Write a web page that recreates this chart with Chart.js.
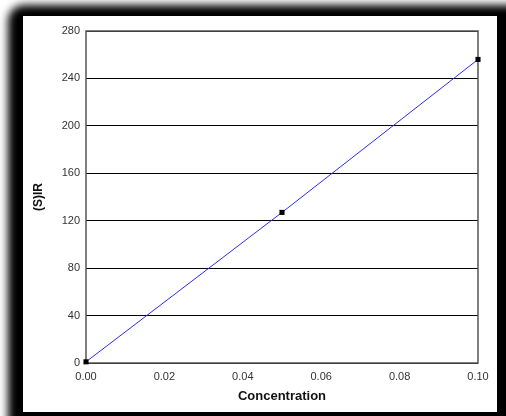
<!DOCTYPE html>
<html>
<head>
<meta charset="utf-8">
<script src="https://cdn.jsdelivr.net/npm/chart.js@4"></script>
<style>
  html, body { margin: 0; padding: 0; background: #fff; overflow: hidden; }
  #wrap { position: relative; width: 506px; height: 416px; overflow: hidden; }
  #shadow { position: absolute; left: 8px; top: 5px; width: 530px; height: 440px;
            background: #000; border-radius: 16px; filter: blur(4px); }
  #panel { position: absolute; left: 23px; top: 16px; width: 474px; height: 396px; background: #fff; }
  #c { position: absolute; left: 0; top: 0; }
</style>
</head>
<body>
<div id="wrap">
  <div id="shadow"></div>
  <div id="panel"></div>
  <canvas id="c" width="506" height="416"></canvas>
</div>
<script>
// Calibration standards: concentration vs. signal
const concentrations = [0.00, 0.05, 0.10];
const signals = [1, 127, 256];
const xTicks = [0.00, 0.02, 0.04, 0.06, 0.08, 0.10];
const yTicks = [0, 40, 80, 120, 160, 200, 240, 280];

const points = concentrations.map((x, i) => ({ x: x, y: signals[i] }));

// Grey frame around the plotting area
const frame = {
  id: 'frame',
  beforeDatasetsDraw(chart) {
    const a = chart.chartArea, ctx = chart.ctx;
    ctx.save();
    ctx.strokeStyle = '#555';
    ctx.lineWidth = 1.5;
    ctx.strokeRect(a.left, a.top, a.right - a.left, a.bottom - a.top);
    ctx.restore();
  }
};

new Chart(document.getElementById('c'), {
  type: 'scatter',
  data: {
    datasets: [{
      data: points,
      showLine: true,
      clip: false,
      borderColor: '#2a2aff',
      borderWidth: 1,
      pointStyle: 'rect',
      pointRadius: 3.6,
      pointBackgroundColor: '#000',
      pointBorderColor: '#000',
      pointBorderWidth: 0
    }]
  },
  options: {
    responsive: false,
    animation: false,
    layout: { padding: { left: 30, right: 28, top: 31, bottom: 10 } },
    plugins: { legend: { display: false }, tooltip: { enabled: false } },
    scales: {
      x: {
        type: 'linear',
        min: 0, max: 0.1,
        afterBuildTicks(s) { s.ticks = xTicks.map(v => ({ value: v })); },
        afterFit(s) { s.height = 43; },
        grid: { display: false, drawTicks: false },
        border: { display: false },
        ticks: {
          padding: 7,
          color: '#333',
          font: { family: 'Liberation Sans, Arial', size: 11 },
          maxRotation: 0,
          callback: v => v.toFixed(2)
        },
        title: {
          display: true,
          text: 'Concentration',
          color: '#111',
          font: { family: 'Liberation Sans, Arial', size: 13, weight: 'bold' },
          padding: { top: 0, bottom: 2 }
        }
      },
      y: {
        min: 0, max: 280,
        afterBuildTicks(s) { s.ticks = yTicks.map(v => ({ value: v })); },
        afterFit(s) { s.width = 56; },
        grid: { color: '#000', lineWidth: 1, drawTicks: false },
        border: { display: false },
        ticks: {
          padding: 6,
          color: '#333',
          font: { family: 'Liberation Sans, Arial', size: 11 }
        },
        title: {
          display: true,
          text: '(S)IR',
          color: '#111',
          font: { family: 'Liberation Sans, Arial', size: 12, weight: 'bold' },
          padding: { top: 1, bottom: 0 }
        }
      }
    }
  },
  plugins: [frame]
});
</script>
</body>
</html>
